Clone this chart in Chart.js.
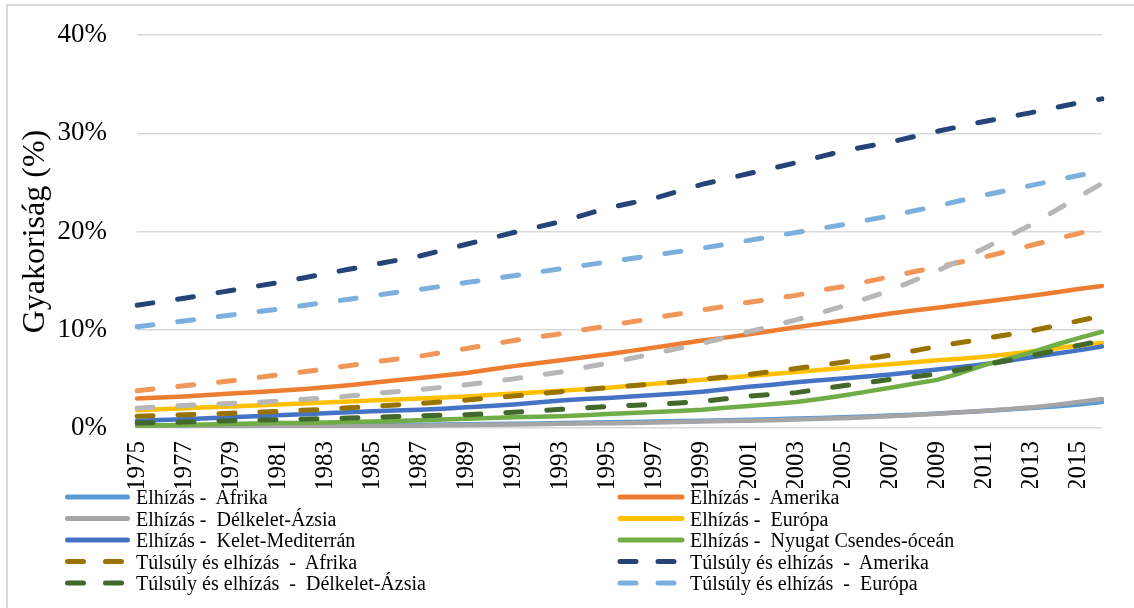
<!DOCTYPE html>
<html><head><meta charset="utf-8">
<script src="https://cdn.jsdelivr.net/npm/chart.js@4.4.1/dist/chart.umd.min.js"></script>
<style>
html,body{margin:0;padding:0;background:#fff;overflow:hidden;}
#wrap{position:relative;width:1134px;height:608px;overflow:hidden;background:#fff;}
#frame{position:absolute;left:6px;top:4px;width:1400px;height:900px;border:2px solid #D9D9D9;box-sizing:border-box;}
#c{position:absolute;left:0;top:0;}
#lgsvg{position:absolute;left:0;top:0;pointer-events:none;}
.lg{position:absolute;font-family:'Liberation Serif','Times New Roman',serif;font-size:20px;color:#000;white-space:pre;line-height:22px;height:22px;}
</style></head>
<body><div id="wrap"><div id="frame"></div><canvas id="c" width="1134" height="608"></canvas><svg id="lgsvg" width="1134" height="608"></svg><div id="legend"></div></div>
<script>
const years = ['1975','1976','1977','1978','1979','1980','1981','1982','1983','1984','1985','1986','1987','1988','1989','1990','1991','1992','1993','1994','1995','1996','1997','1998','1999','2000','2001','2002','2003','2004','2005','2006','2007','2008','2009','2010','2011','2012','2013','2014','2015','2016'];

const obAfrika   = [0.1,0.11,0.12,0.13,0.15,0.17,0.19,0.21,0.23,0.25, 0.27,0.3,0.32,0.35,0.38,0.41,0.44,0.47,0.5,0.54, 0.58,0.62,0.66,0.7,0.75,0.8,0.85,0.9,0.96,1.02, 1.09,1.17,1.26,1.36,1.48,1.6,1.74,1.88,2.03,2.2, 2.4,2.65];
const obAmerika  = [3.0,3.1,3.2,3.35,3.5,3.65,3.8,3.95,4.15,4.35, 4.6,4.85,5.1,5.35,5.6,5.95,6.3,6.6,6.9,7.2, 7.5,7.85,8.2,8.55,8.9,9.2,9.55,9.9,10.25,10.6, 10.95,11.3,11.65,11.95,12.25,12.55,12.85,13.15,13.45,13.8, 14.15,14.45];
const obDKAzsia  = [0.05,0.06,0.07,0.08,0.09,0.1,0.12,0.14,0.16,0.18, 0.2,0.22,0.24,0.27,0.3,0.33,0.36,0.39,0.42,0.45, 0.48,0.52,0.56,0.6,0.65,0.7,0.75,0.8,0.86,0.93, 1.0,1.1,1.2,1.32,1.45,1.6,1.75,1.92,2.1,2.35, 2.65,2.95];
const obEuropa   = [1.8,1.9,2.0,2.1,2.2,2.3,2.4,2.5,2.6,2.7, 2.8,2.9,3.0,3.1,3.2,3.35,3.5,3.65,3.8,3.95, 4.1,4.3,4.5,4.7,4.9,5.1,5.3,5.5,5.7,5.9, 6.1,6.3,6.5,6.7,6.9,7.05,7.25,7.5,7.8,8.1, 8.4,8.65];
const obKMed     = [0.75,0.82,0.9,1.0,1.1,1.2,1.3,1.4,1.5,1.6, 1.7,1.78,1.85,1.97,2.1,2.25,2.4,2.6,2.8,2.95, 3.05,3.2,3.35,3.5,3.7,3.95,4.2,4.4,4.65,4.85, 5.05,5.25,5.45,5.7,5.95,6.2,6.5,6.85,7.2,7.55, 7.9,8.3];
const obNyCs     = [0.25,0.27,0.3,0.35,0.4,0.45,0.5,0.52,0.55,0.6, 0.65,0.72,0.8,0.87,0.95,1.02,1.1,1.15,1.2,1.3, 1.42,1.52,1.62,1.73,1.85,2.05,2.25,2.45,2.65,2.95, 3.3,3.7,4.1,4.5,4.9,5.6,6.4,7.05,7.7,8.45, 9.15,9.8];
const owAfrika   = [1.2,1.28,1.35,1.42,1.5,1.6,1.7,1.8,1.9,2.05, 2.2,2.35,2.5,2.67,2.85,3.05,3.25,3.47,3.7,3.9, 4.1,4.3,4.5,4.72,4.95,5.2,5.45,5.75,6.05,6.37, 6.7,7.05,7.4,7.85,8.3,8.7,9.1,9.5,9.9,10.4, 10.9,11.4];
const owAmerika  = [12.5,12.85,13.2,13.6,14.0,14.4,14.8,15.25,15.7,16.15, 16.6,17.05,17.5,18.1,18.7,19.3,19.9,20.45,21.0,21.7, 22.4,22.9,23.4,24.1,24.8,25.35,25.9,26.45,27.0,27.6, 28.2,28.65,29.1,29.65,30.2,30.7,31.2,31.65,32.1,32.6, 33.1,33.5];
const owDKAzsia  = [0.5,0.55,0.6,0.67,0.75,0.8,0.85,0.9,0.95,1.02, 1.1,1.17,1.25,1.3,1.35,1.47,1.6,1.75,1.9,2.05, 2.2,2.3,2.4,2.55,2.7,2.97,3.25,3.42,3.6,3.95, 4.3,4.62,4.95,5.22,5.5,5.95,6.4,6.87,7.35,7.87, 8.4,8.9];
const owEuropa   = [10.3,10.6,10.9,11.2,11.5,11.8,12.1,12.45,12.8,13.1, 13.45,13.8,14.1,14.45,14.8,15.15,15.5,15.85,16.2,16.55, 16.9,17.25,17.6,17.95,18.3,18.7,19.1,19.5,19.9,20.3, 20.7,21.15,21.6,22.1,22.6,23.15,23.7,24.2,24.7,25.2, 25.7,26.2];
const owKMed     = [3.8,4.05,4.3,4.55,4.8,5.1,5.4,5.7,6.0,6.35, 6.7,7.0,7.3,7.7,8.1,8.5,8.9,9.25,9.6,10.0, 10.4,10.8,11.2,11.6,12.0,12.4,12.8,13.15,13.5,14.0, 14.4,14.9,15.4,15.9,16.4,16.9,17.4,18.0,18.6,19.2, 19.8,20.4];
const owNyCs     = [2.0,2.15,2.3,2.4,2.5,2.6,2.75,2.9,3.05,3.25, 3.5,3.7,3.9,4.15,4.4,4.7,5.0,5.35,5.7,6.15, 6.6,7.1,7.6,8.1,8.6,9.2,9.8,10.4,11.0,11.7, 12.4,13.2,14.0,15.0,16.0,17.1,18.3,19.5,20.7,22.1, 23.5,24.9];

const seriesNames = [
  'Elhízás -  Afrika','Elhízás -  Amerika','Elhízás -  Délkelet-Ázsia','Elhízás -  Európa',
  'Elhízás -  Kelet-Mediterrán','Elhízás -  Nyugat Csendes-óceán',
  'Túlsúly és elhízás  -  Afrika','Túlsúly és elhízás  -  Amerika','Túlsúly és elhízás  -  Délkelet-Ázsia',
  'Túlsúly és elhízás  -  Európa','Túlsúly és elhízás  -  Kelet-Mediterrán','Túlsúly és elhízás  -  Nyugat Csendes-óceán'
];
const seriesValues = [obAfrika,obAmerika,obDKAzsia,obEuropa,obKMed,obNyCs,owAfrika,owAmerika,owDKAzsia,owEuropa,owKMed,owNyCs];
const seriesColors = ['#5B9BD5','#ED7D31','#A5A5A5','#FFC000','#4472C4','#70AD47','#997300','#264478','#43682B','#7CAFDD','#F1975A','#B7B7B7'];
const seriesDashed = [false,false,false,false,false,false,true,true,true,true,true,true];
const yTicks = [0,10,20,30,40];
const yTitle = 'Gyakoriság (%)';
const legendCount = 10;

const FONT = "'Liberation Serif','Times New Roman',serif";
const target = { left: 137, top: 35, right: 1102, bottom: 428 };

const chart = new Chart(document.getElementById('c'), {
  type: 'line',
  data: {
    labels: years,
    datasets: seriesValues.map((vals, i) => ({
      label: seriesNames[i],
      data: vals,
      borderColor: seriesColors[i],
      backgroundColor: seriesColors[i],
      borderWidth: seriesDashed[i] ? 5 : 4.5,
      borderDash: seriesDashed[i] ? [16, 25] : [],
      borderCapStyle: 'round',
      borderJoinStyle: 'round',
      pointRadius: 0,
      pointHoverRadius: 0,
      tension: 0,
      fill: false,
      order: -i
    }))
  },
  options: {
    responsive: false,
    animation: false,
    devicePixelRatio: 1,
    layout: { autoPadding: false, padding: { left: 16, top: 35, right: 32, bottom: 120 } },
    plugins: { legend: { display: false }, tooltip: { enabled: false } },
    scales: {
      x: {
        grid: { display: false, drawTicks: true, tickLength: 12, tickColor: 'rgba(0,0,0,0)' },
        border: { display: false },
        ticks: {
          autoSkip: false, maxRotation: 90, minRotation: 90, padding: 1,
          color: '#000', font: { family: FONT, size: 25 },
          callback: function (v, i) { return i % 2 === 0 ? this.getLabelForValue(v) : ''; }
        },
        afterFit: s => { s.height = 60; }
      },
      y: {
        min: yTicks[0], max: yTicks[yTicks.length - 1],
        afterBuildTicks: s => { s.ticks = yTicks.map(v => ({ value: v })); },
        ticks: { callback: v => v + '%', padding: 0, color: '#000', font: { family: FONT, size: 27 } },
        grid: { color: '#D9D9D9', lineWidth: 1.5, drawTicks: true, tickLength: 30, tickColor: 'rgba(0,0,0,0)' },
        border: { display: false },
        title: { display: true, text: yTitle, color: '#000', padding: 0, font: { family: FONT, size: 32 } },
        afterFit: s => { s.width = 121; }
      }
    }
  }
});

// nudge layout padding so the plot area lands where the reference has it
for (let k = 0; k < 4; k++) {
  const a = chart.chartArea, p = chart.options.layout.padding;
  const dTop = a.top - target.top, dRight = a.right - target.right, dBottom = a.bottom - target.bottom, dLeft = a.left - target.left;
  if (Math.abs(dTop) < 0.5 && Math.abs(dRight) < 0.5 && Math.abs(dBottom) < 0.5 && Math.abs(dLeft) < 0.5) break;
  p.top = Math.max(0, p.top - dTop); p.right = Math.max(0, p.right + dRight);
  p.bottom = Math.max(0, p.bottom + dBottom); p.left = Math.max(0, p.left - dLeft);
  chart.update();
}

// Legend (two columns, first 10 series)
const svgNS = 'http://www.w3.org/2000/svg';
const svg = document.getElementById('lgsvg');
const legendEl = document.getElementById('legend');
const rowY = [497, 518.5, 540, 561.5, 583];
const colLine = [[67.5, 127.5], [620, 682]];
const colText = [136, 690];
for (let i = 0; i < legendCount; i++) {
  const col = i % 2, row = Math.floor(i / 2);
  const y = rowY[row];
  const ln = document.createElementNS(svgNS, 'line');
  ln.setAttribute('x1', colLine[col][0]); ln.setAttribute('x2', colLine[col][1]);
  ln.setAttribute('y1', y); ln.setAttribute('y2', y);
  ln.setAttribute('stroke', seriesColors[i]);
  ln.setAttribute('stroke-width', 5);
  ln.setAttribute('stroke-linecap', 'round');
  if (seriesDashed[i]) ln.setAttribute('stroke-dasharray', '16 22');
  svg.appendChild(ln);
  const t = document.createElement('div');
  t.className = 'lg';
  t.style.left = colText[col] + 'px';
  t.style.top = (y - 11) + 'px';
  t.textContent = seriesNames[i];
  legendEl.appendChild(t);
}
</script>
</body></html>
